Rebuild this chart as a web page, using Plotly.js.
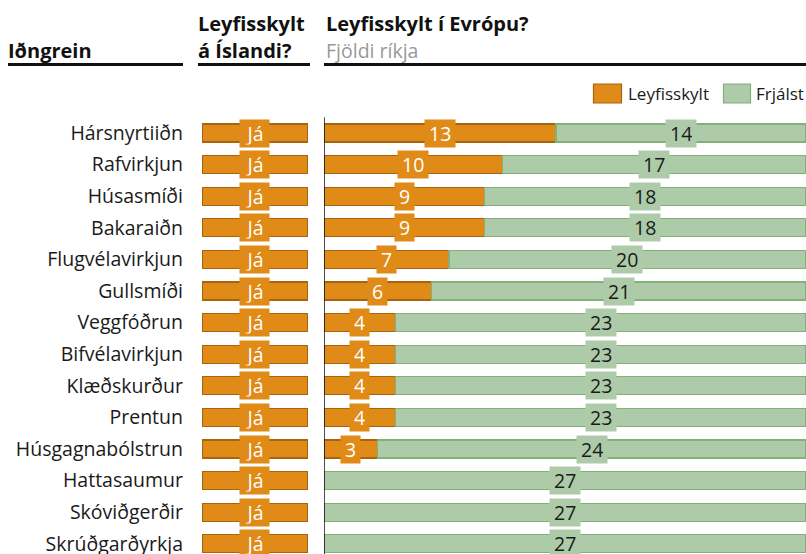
<!DOCTYPE html>
<html>
<head>
<meta charset="utf-8">
<script src="https://cdn.plot.ly/plotly-3.0.1.min.js"></script>
<style>html,body{margin:0;padding:0;background:#fff;}#chart{width:806px;height:554px;}</style>
</head>
<body>
<div id="chart"></div>
<script>
// ---- data ----
const rows = ['Hársnyrtiiðn','Rafvirkjun','Húsasmíði','Bakaraiðn','Flugvélavirkjun','Gullsmíði','Veggfóðrun','Bifvélavirkjun','Klæðskurður','Prentun','Húsgagnabólstrun','Hattasaumur','Skóviðgerðir','Skrúðgarðyrkja'];
const leyfisskylt = [13,10,9,9,7,6,4,4,4,4,3,0,0,0];
const frjalst = [14,17,18,18,20,21,23,23,23,23,24,27,27,27];
const iceland = ['Já','Já','Já','Já','Já','Já','Já','Já','Já','Já','Já','Já','Já','Já'];
const seriesNames = ['Leyfisskylt','Frjálst'];

// ---- style ----
const W = 806, H = 554;
const FONT = 'Open Sans, Noto Sans, sans-serif';
const ORANGE = '#E08A17', ORANGE_LINE = '#A8630E';
const GREEN = '#ADCBA9', GREEN_LINE = '#82B077';
const px = v => v / W;
const py = v => 1 - v / H;
const ROW0 = 133, STEP = 31.6;
const BARW = 0.57;

const traces = [
  {type:'bar', orientation:'h', y: rows, x: iceland.map(v => v === 'Já' ? 1 : 0), xaxis:'x', yaxis:'y',
   marker:{color:ORANGE, line:{color:ORANGE_LINE, width:1.2}}, width:BARW, showlegend:false, hoverinfo:'skip'},
  {type:'bar', orientation:'h', y: rows, x: leyfisskylt, xaxis:'x2', yaxis:'y', name:seriesNames[0],
   marker:{color:ORANGE, line:{color:ORANGE_LINE, width:1.2}}, width:BARW, showlegend:false},
  {type:'bar', orientation:'h', y: rows, x: frjalst, xaxis:'x2', yaxis:'y', name:seriesNames[1],
   marker:{color:GREEN, line:{color:GREEN_LINE, width:1.2}}, width:BARW, showlegend:false}
];

const LBL = 19.5;
const annotations = [];
rows.forEach((r, i) => {
  annotations.push({xref:'x', yref:'y', x:0.5, y:r, text:iceland[i], showarrow:false,
    font:{family:FONT, size:LBL, color:'#fff'}, bgcolor:ORANGE, borderpad:2.5, height:22, width:24});
  if (leyfisskylt[i] > 0) {
    annotations.push({xref:'x2', yref:'y', x:leyfisskylt[i]/2, y:r, text:String(leyfisskylt[i]), showarrow:false,
      font:{family:FONT, size:LBL, color:'#fff'}, bgcolor:ORANGE, borderpad:4, height:19});
  }
  if (frjalst[i] > 0) {
    annotations.push({xref:'x2', yref:'y', x:leyfisskylt[i] + frjalst[i]/2, y:r, text:String(frjalst[i]), showarrow:false,
      font:{family:FONT, size:LBL, color:'#1a1a1a'}, bgcolor:GREEN, borderpad:4, height:19});
  }
});

// header texts
const hdr = (x, y, text, opts) => Object.assign({xref:'paper', yref:'paper', x:px(x), y:py(y), xanchor:'left', yanchor:'middle',
  text, showarrow:false, font:{family:FONT, size:20, color:'#111'}}, opts || {});
annotations.push(hdr(6, 51, '<b>Iðngrein</b>'));
annotations.push(hdr(196, 24, '<b>Leyfisskylt</b>'));
annotations.push(hdr(196, 51, '<b>á Íslandi?</b>'));
annotations.push(hdr(324, 24, '<b>Leyfisskylt í Evrópu?</b>'));
annotations.push(hdr(324, 51, 'Fjöldi ríkja', {font:{family:FONT, size:19.5, color:'#999'}}));
// legend texts
annotations.push(hdr(626, 94, seriesNames[0], {font:{family:FONT, size:17, color:'#1a1a1a'}}));
annotations.push(hdr(754, 94, seriesNames[1], {font:{family:FONT, size:17, color:'#1a1a1a'}}));

const shapes = [
  {type:'line', xref:'paper', yref:'paper', x0:px(8), x1:px(183), y0:py(64.5), y1:py(64.5), line:{color:'#111', width:3}},
  {type:'line', xref:'paper', yref:'paper', x0:px(198), x1:px(310), y0:py(64.5), y1:py(64.5), line:{color:'#111', width:3}},
  {type:'line', xref:'paper', yref:'paper', x0:px(324), x1:px(806), y0:py(64.5), y1:py(64.5), line:{color:'#111', width:3}},
  // legend swatches
  {type:'rect', xref:'paper', yref:'paper', x0:px(593.5), x1:px(621.5), y0:py(84), y1:py(103), fillcolor:ORANGE, line:{color:ORANGE_LINE, width:1.2}},
  {type:'rect', xref:'paper', yref:'paper', x0:px(723.5), x1:px(750.5), y0:py(84), y1:py(103), fillcolor:GREEN, line:{color:GREEN_LINE, width:1.2}},
  // zero line
  {type:'line', xref:'x2', yref:'y', x0:0, x1:0, y0:-0.5, y1:rows.length - 0.5, line:{color:'#111', width:1.5}, layer:'above'}
];

const layout = {
  width:W, height:H,
  margin:{l:0, r:0, t:0, b:0, pad:0},
  paper_bgcolor:'#fff', plot_bgcolor:'rgba(0,0,0,0)',
  barmode:'stack',
  showlegend:false,
  xaxis:{domain:[px(202), px(308)], range:[0,1], visible:false, fixedrange:true},
  xaxis2:{domain:[px(324), 1], range:[0,27], visible:false, fixedrange:true},
  yaxis:{type:'category', categoryorder:'array', categoryarray:rows, anchor:'x',
    range:[(H-ROW0)/STEP, -ROW0/STEP], showgrid:false, zeroline:false, showline:false, ticks:'',
    ticklabelstandoff:18, tickfont:{family:FONT, size:19.5, color:'#1a1a1a'}},
  annotations, shapes
};

Plotly.newPlot('chart', traces, layout, {displayModeBar:false, staticPlot:true});
</script>
</body>
</html>
